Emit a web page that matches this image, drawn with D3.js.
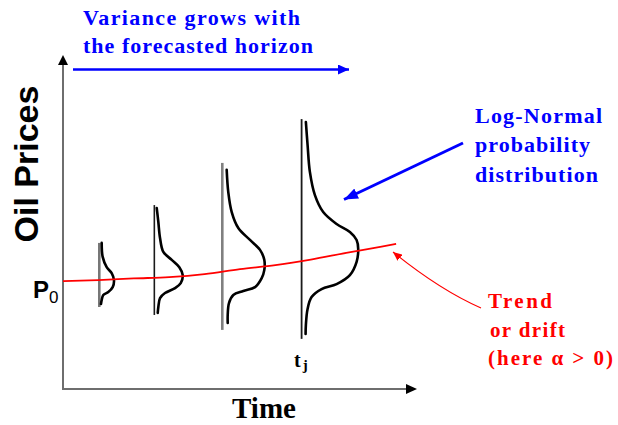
<!DOCTYPE html>
<html>
<head>
<meta charset="utf-8">
<script src="https://cdn.jsdelivr.net/npm/d3@7"></script>
<style>
  html, body { margin: 0; padding: 0; background: #fff; }
  svg { display: block; }
</style>
</head>
<body>
<svg id="chart" width="618" height="425"></svg>
<script>
// ---------------- DATA ----------------
// Trend / drift line (time, price)
const trendTime  = [0, 1, 2, 3, 4, 5, 6, 7, 8, 9, 9.41];
const trendPrice = [32.5, 32.8, 33.3, 33.7, 34.6, 36.1, 37.3, 39.0, 41.0, 42.9, 43.7];

// Forecast horizons (time of each vertical baseline) and baseline extents
const distTimes = [1.025, 2.58, 4.50, 6.74];
const distLow   = [24.7, 22.3, 17.8, 15.1];
const distHigh  = [44.0, 55.4, 68.1, 81.3];

// Log-normal density curves: price levels and density (drawn as offset in time units)
const dist1Price = [44.0, 39.8, 36.7, 34.9, 32.8, 30.7, 29.2, 28.3, 26.8, 25.6];
const dist1Dens  = [0.068, 0.096, 0.209, 0.350, 0.415, 0.379, 0.254, 0.113, 0.068, 0.048];

const dist2Price = [54.5, 50.3, 45.5, 41.3, 38.9, 36.7, 34.3, 31.9, 30.4, 28.9, 27.4, 24.7, 22.9];
const dist2Dens  = [0.068, 0.113, 0.161, 0.254, 0.492, 0.706, 0.802, 0.746, 0.585, 0.302, 0.161, 0.113, 0.096];

const dist3Price = [66.0, 59.3, 53.3, 48.5, 44.9, 41.9, 38.9, 35.8, 33.4, 30.7, 29.5, 28.3, 25.9, 22.3, 19.9];
const dist3Dens  = [0.124, 0.169, 0.266, 0.452, 0.782, 1.065, 1.186, 1.186, 1.113, 0.924, 0.593, 0.311, 0.189, 0.153, 0.153];

const dist4Price = [80.4, 73.5, 65.4, 58.4, 53.3, 49.7, 47.3, 44.9, 42.2, 38.3, 34.3, 31.6, 30.1, 27.7, 24.1, 19.3, 16.6];
const dist4Dens  = [0.121, 0.169, 0.234, 0.376, 0.610, 0.989, 1.364, 1.554, 1.599, 1.554, 1.364, 0.989, 0.565, 0.282, 0.169, 0.121, 0.113];

// Texts
const yAxisLabel = "Oil Prices";
const xAxisLabel = "Time";
const startLabel = "P";
const startSub   = "0";
const horizonLabel = "t";
const horizonSub   = "j";
const topNote   = ["Variance grows with", "the forecasted horizon"];
const distNote  = ["Log-Normal", "probability", "distribution"];
const trendNote = ["Trend", "or drift", "(here  \u03B1 > 0)"];

// ---------------- DRAWING ----------------
const svg = d3.select("#chart");
const x = d3.scaleLinear().domain([0, 10]).range([63, 417]);
const y = d3.scaleLinear().domain([0, 100]).range([389, 57]);

const SERIF = "'Liberation Serif', 'Times New Roman', serif";
const SANS  = "'Liberation Sans', Arial, sans-serif";
const BLUE = "#0000ff", RED = "#ff0000";

svg.append("rect").attr("width", 618).attr("height", 425).attr("fill", "#fff");

const defs = svg.append("defs");
function marker(id, color, len, wid, refX) {
  defs.append("marker")
    .attr("id", id)
    .attr("markerUnits", "userSpaceOnUse")
    .attr("viewBox", `0 0 ${len} ${wid}`)
    .attr("refX", refX).attr("refY", wid / 2)
    .attr("markerWidth", len).attr("markerHeight", wid)
    .attr("orient", "auto")
    .append("path")
    .attr("d", `M0,0L${len},${wid / 2}L0,${wid}z`)
    .attr("fill", color);
}
marker("arrBlue", BLUE, 11, 10, 11);
marker("arrBlueBig", BLUE, 14, 11, 14);
marker("arrRed", RED, 9, 8, 9);

// Axes (library axis domain lines, ticks hidden)
const xAxisG = svg.append("g").attr("transform", `translate(0,${y(0)})`)
  .call(d3.axisBottom(x).tickValues([]).tickSizeOuter(0));
xAxisG.select(".domain").attr("stroke", "#6e6e6e").attr("stroke-width", 2)
  .attr("d", `M${x(0)},0H${x(10) - 8}`);
const yAxisG = svg.append("g").attr("transform", `translate(${x(0)},0)`)
  .call(d3.axisLeft(y).tickValues([]).tickSizeOuter(0));
yAxisG.select(".domain").attr("stroke", "#6e6e6e").attr("stroke-width", 2)
  .attr("d", `M0,${y(0) + 1}V${y(100) + 6}`);
// arrowheads
svg.append("path").attr("fill", "#000")
  .attr("d", `M${x(10)},${y(0)}L${x(10) - 11},${y(0) - 5}L${x(10) - 11},${y(0) + 5}z`);
svg.append("path").attr("fill", "#000")
  .attr("d", `M${x(0)},${y(100) - 2}L${x(0) - 5},${y(100) + 8}L${x(0) + 5},${y(100) + 8}z`);

// Vertical baselines of distributions
const lineStyles = [
  { c: "#777", w: 2.6 }, { c: "#1a1a1a", w: 1.6 }, { c: "#808080", w: 2.6 }, { c: "#1a1a1a", w: 1.8 }
];
distTimes.forEach((t, i) => {
  svg.append("line")
    .attr("x1", x(t)).attr("x2", x(t))
    .attr("y1", y(distLow[i])).attr("y2", y(distHigh[i]))
    .attr("stroke", lineStyles[i].c).attr("stroke-width", lineStyles[i].w);
});

// Density curves
const dists = [
  [dist1Price, dist1Dens], [dist2Price, dist2Dens], [dist3Price, dist3Dens], [dist4Price, dist4Dens]
];
dists.forEach(([ps, ds], i) => {
  const pts = ps.map((p, k) => [distTimes[i] + ds[k], p]);
  svg.append("path")
    .datum(pts)
    .attr("fill", "none")
    .attr("stroke", "#000")
    .attr("stroke-width", 2.6)
    .attr("stroke-linecap", "round")
    .attr("d", d3.line().x(d => x(d[0])).y(d => y(d[1])).curve(d3.curveCatmullRom.alpha(0.5)));
});

// Trend line
svg.append("path")
  .datum(trendTime.map((t, k) => [t, trendPrice[k]]))
  .attr("fill", "none").attr("stroke", RED).attr("stroke-width", 1.8)
  .attr("d", d3.line().x(d => x(d[0])).y(d => y(d[1])).curve(d3.curveMonotoneX));

// Axis labels
svg.append("text")
  .attr("transform", `translate(38,164) rotate(-90)`)
  .attr("text-anchor", "middle")
  .attr("font-family", SANS).attr("font-weight", "bold").attr("font-size", 34)
  .attr("fill", "#000").text(yAxisLabel);

svg.append("text")
  .attr("x", 264).attr("y", 418).attr("text-anchor", "middle")
  .attr("font-family", SERIF).attr("font-weight", "bold").attr("font-size", 29)
  .attr("fill", "#000").text(xAxisLabel);

// P0
const p0 = svg.append("text").attr("x", 33).attr("y", 298)
  .attr("font-family", SANS).attr("font-weight", "bold").attr("fill", "#000");
p0.append("tspan").attr("font-size", 24).text(startLabel);
p0.append("tspan").attr("font-size", 17).attr("font-weight", "normal").attr("dy", 5).text(startSub);

// t_j
const tj = svg.append("text").attr("x", 294).attr("y", 367)
  .attr("font-family", SERIF).attr("font-weight", "bold").attr("fill", "#000");
tj.append("tspan").attr("font-size", 20).text(horizonLabel);
tj.append("tspan").attr("font-size", 15).attr("dy", 3).attr("dx", 2).text(horizonSub);

// Blue top annotation
const topLen = [217, 230];
topNote.forEach((s, i) => {
  svg.append("text").attr("x", 83).attr("y", 25 + i * 27.7)
    .attr("font-family", SERIF).attr("font-weight", "bold").attr("font-size", 22)
    .attr("fill", BLUE).attr("textLength", topLen[i]).attr("lengthAdjust", "spacing")
    .text(s);
});
svg.append("line").attr("x1", 73).attr("y1", 69.5).attr("x2", 349).attr("y2", 69.5)
  .attr("stroke", BLUE).attr("stroke-width", 2.6).attr("marker-end", "url(#arrBlue)");

// Log-normal annotation
const distLen = [127, 115, 123];
distNote.forEach((s, i) => {
  svg.append("text").attr("x", 475).attr("y", 122.5 + i * 29.7)
    .attr("font-family", SERIF).attr("font-weight", "bold").attr("font-size", 22)
    .attr("fill", BLUE).attr("textLength", distLen[i]).attr("lengthAdjust", "spacing")
    .text(s);
});
svg.append("line").attr("x1", 463).attr("y1", 143).attr("x2", 344).attr("y2", 199.5)
  .attr("stroke", BLUE).attr("stroke-width", 3).attr("marker-end", "url(#arrBlueBig)");

// Trend annotation
const trendLen = [64, 75, 125];
const trendX = [488, 490, 488];
trendNote.forEach((s, i) => {
  svg.append("text").attr("x", trendX[i]).attr("y", 308 + i * 28.5)
    .attr("font-family", SERIF).attr("font-weight", "bold").attr("font-size", 21)
    .attr("fill", RED).attr("textLength", trendLen[i]).attr("lengthAdjust", "spacing")
    .text(s);
});
svg.append("path").attr("d", "M481,308 Q440,290 393,252")
  .attr("fill", "none").attr("stroke", RED).attr("stroke-width", 1.1)
  .attr("marker-end", "url(#arrRed)");
</script>
</body>
</html>
